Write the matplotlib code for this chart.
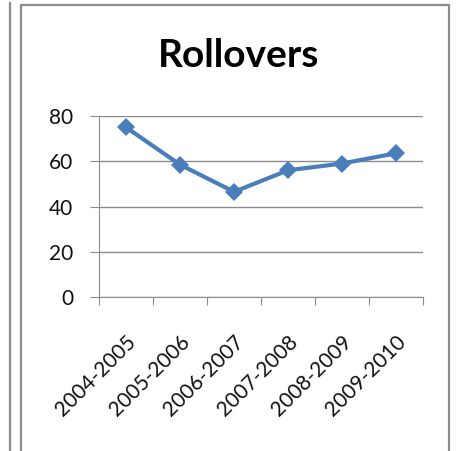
import matplotlib.pyplot as plt
import matplotlib.transforms as mtransforms
from matplotlib.patches import Rectangle
from matplotlib.lines import Line2D

# data
seasons = ['2004-2005', '2005-2006', '2006-2007', '2007-2008', '2008-2009', '2009-2010']
rollovers = [75, 58.5, 46.5, 56, 59, 63.5]
yticks = [0, 20, 40, 60, 80]

W, H = 457, 451
fig = plt.figure(figsize=(W / 100, H / 100), dpi=100)
plt.rcParams['font.family'] = ['Lato', 'DejaVu Sans']

# frame around the chart (cut off at the bottom) and the neighbour's edge on the left
fig.add_artist(Rectangle((21 / W, -0.05), (449 - 21) / W, 1.05 - 5 / H,
                         transform=fig.transFigure, fill=False,
                         edgecolor='#8c8c8c', linewidth=1.6))
fig.add_artist(Line2D([10 / W, 10 / W], [0, 1 - 3 / H], transform=fig.transFigure,
                      color='#8c8c8c', linewidth=1.6))

ax = fig.add_axes([99 / W, 1 - 297 / H, (423 - 99) / W, (297 - 116) / H])
x = list(range(len(seasons)))
ax.plot(x, rollovers, color='#4a7ebb', linewidth=3, marker='D',
        markersize=9, markeredgewidth=0, zorder=3)

ax.set_xlim(-0.5, len(seasons) - 0.5)
ax.set_ylim(0, 80)
ax.set_yticks(yticks)
ax.yaxis.grid(True, color='#8c8c8c', linewidth=1)
ax.set_axisbelow(True)

ax.set_xticks([i - 0.5 for i in range(len(seasons) + 1)], minor=False)
ax.set_xticklabels([])
ax.set_xticks(x, minor=True)
ax.set_xticklabels(seasons, minor=True, rotation=45, ha='right',
                   rotation_mode='anchor', fontsize=15, color='#111111')
shift = mtransforms.ScaledTranslation(3 / 100, 0, fig.dpi_scale_trans)
for lab in ax.get_xticklabels(minor=True):
    lab.set_transform(lab.get_transform() + shift)
ax.tick_params(axis='x', which='major', length=6, color='#8c8c8c', direction='out')
ax.tick_params(axis='x', which='minor', length=0, pad=25)
ax.tick_params(axis='y', length=6.5, color='#8c8c8c', labelsize=15,
               labelcolor='#111111', pad=12)

for side in ['top', 'right']:
    ax.spines[side].set_visible(False)
for side in ['left', 'bottom']:
    ax.spines[side].set_color('#8c8c8c')

fig.text(239 / W, 1 - 67 / H, 'Rollovers', ha='center', va='baseline',
         fontsize=28, fontweight='bold', color='#000000')

fig.savefig('out.png', dpi=100)
